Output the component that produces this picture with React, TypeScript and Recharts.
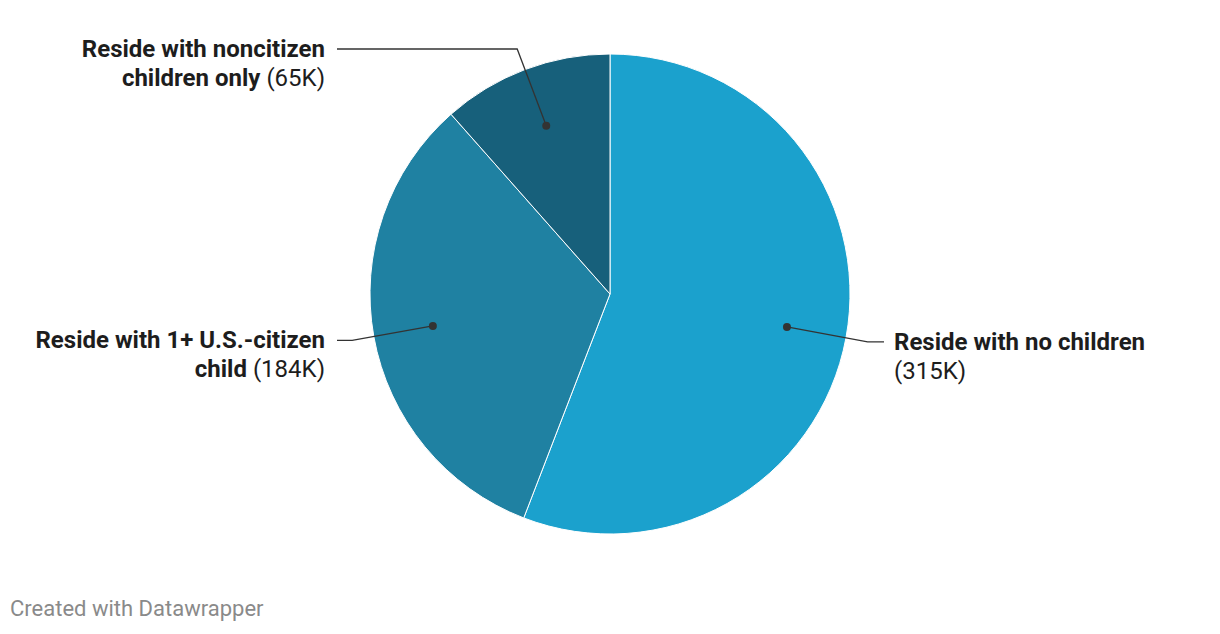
import React from "react";
import { PieChart, Pie, Cell } from "recharts";

const categories = [
  "Reside with no children",
  "Reside with 1+ U.S.-citizen child",
  "Reside with noncitizen children only",
];
const values = [315, 184, 65];
const labelLine1 = ["Reside with no children", "Reside with 1+ U.S.-citizen", "Reside with noncitizen"];
const labelLine2 = ["", "child", "children only"];
const colors = ["#1ba1cd", "#1f81a2", "#17607b"];

const data = categories.map((name, i) => ({ name, value: values[i] }));

const RAD = Math.PI / 180;

const renderLabel = (props: any) => {
  const { cx, cy, midAngle, outerRadius, index } = props;
  const cos = Math.cos(-midAngle * RAD);
  const sin = Math.sin(-midAngle * RAD);
  const dx = cx + outerRadius * 0.75 * cos;
  const dy = cy + outerRadius * 0.75 * sin;
  const ex = cx + (outerRadius + 22) * cos;
  const ey = cy + (outerRadius + 22) * sin;
  const right = cos >= 0;
  const hx = right ? cx + 274 : cx - 273;
  const tx = right ? hx + 10 : hx - 12;
  const anchor = right ? "start" : "end";
  const l2 = labelLine2[index];
  const valueText = `(${values[index]}K)`;
  return (
    <g key={`lbl-${index}`}>
      <polyline
        points={`${dx},${dy} ${ex},${ey} ${hx},${ey}`}
        fill="none"
        stroke="#333"
        strokeWidth={1.3}
      />
      <circle cx={dx} cy={dy} r={4} fill="#333" />
      <text
        x={tx}
        y={ey}
        textAnchor={anchor}
        dominantBaseline="central"
        fontFamily="Roboto, sans-serif"
        fontSize={24}
        fill="#1d1d1d"
      >
        <tspan fontWeight={700}>{labelLine1[index]}</tspan>
      </text>
      <text
        x={tx}
        y={ey + 29}
        textAnchor={anchor}
        dominantBaseline="central"
        fontFamily="Roboto, sans-serif"
        fontSize={24}
        fill="#1d1d1d"
      >
        {l2 ? <tspan fontWeight={700}>{l2}</tspan> : null}
        <tspan fontWeight={400}>{l2 ? " " + valueText : valueText}</tspan>
      </text>
    </g>
  );
};

export default function App() {
  return (
    <div
      style={{
        position: "absolute",
        left: 0,
        top: 0,
        width: 1220,
        height: 634,
        background: "#fff",
      }}
    >
      <PieChart width={1220} height={634} margin={{ top: 0, right: 0, bottom: 0, left: 0 }}>
        <Pie
          data={data}
          dataKey="value"
          nameKey="name"
          cx={610}
          cy={294}
          outerRadius={240}
          startAngle={90}
          endAngle={-270}
          stroke="#fff"
          strokeWidth={1}
          label={renderLabel}
          labelLine={false}
          isAnimationActive={false}
        >
          {data.map((d, i) => (
            <Cell key={d.name} fill={colors[i]} />
          ))}
        </Pie>
      </PieChart>
      <div
        style={{
          position: "absolute",
          left: 10,
          top: 596,
          fontFamily: "Roboto, sans-serif",
          fontSize: 22,
          color: "#8a8a8a",
          whiteSpace: "nowrap",
        }}
      >
        Created with Datawrapper
      </div>
    </div>
  );
}
